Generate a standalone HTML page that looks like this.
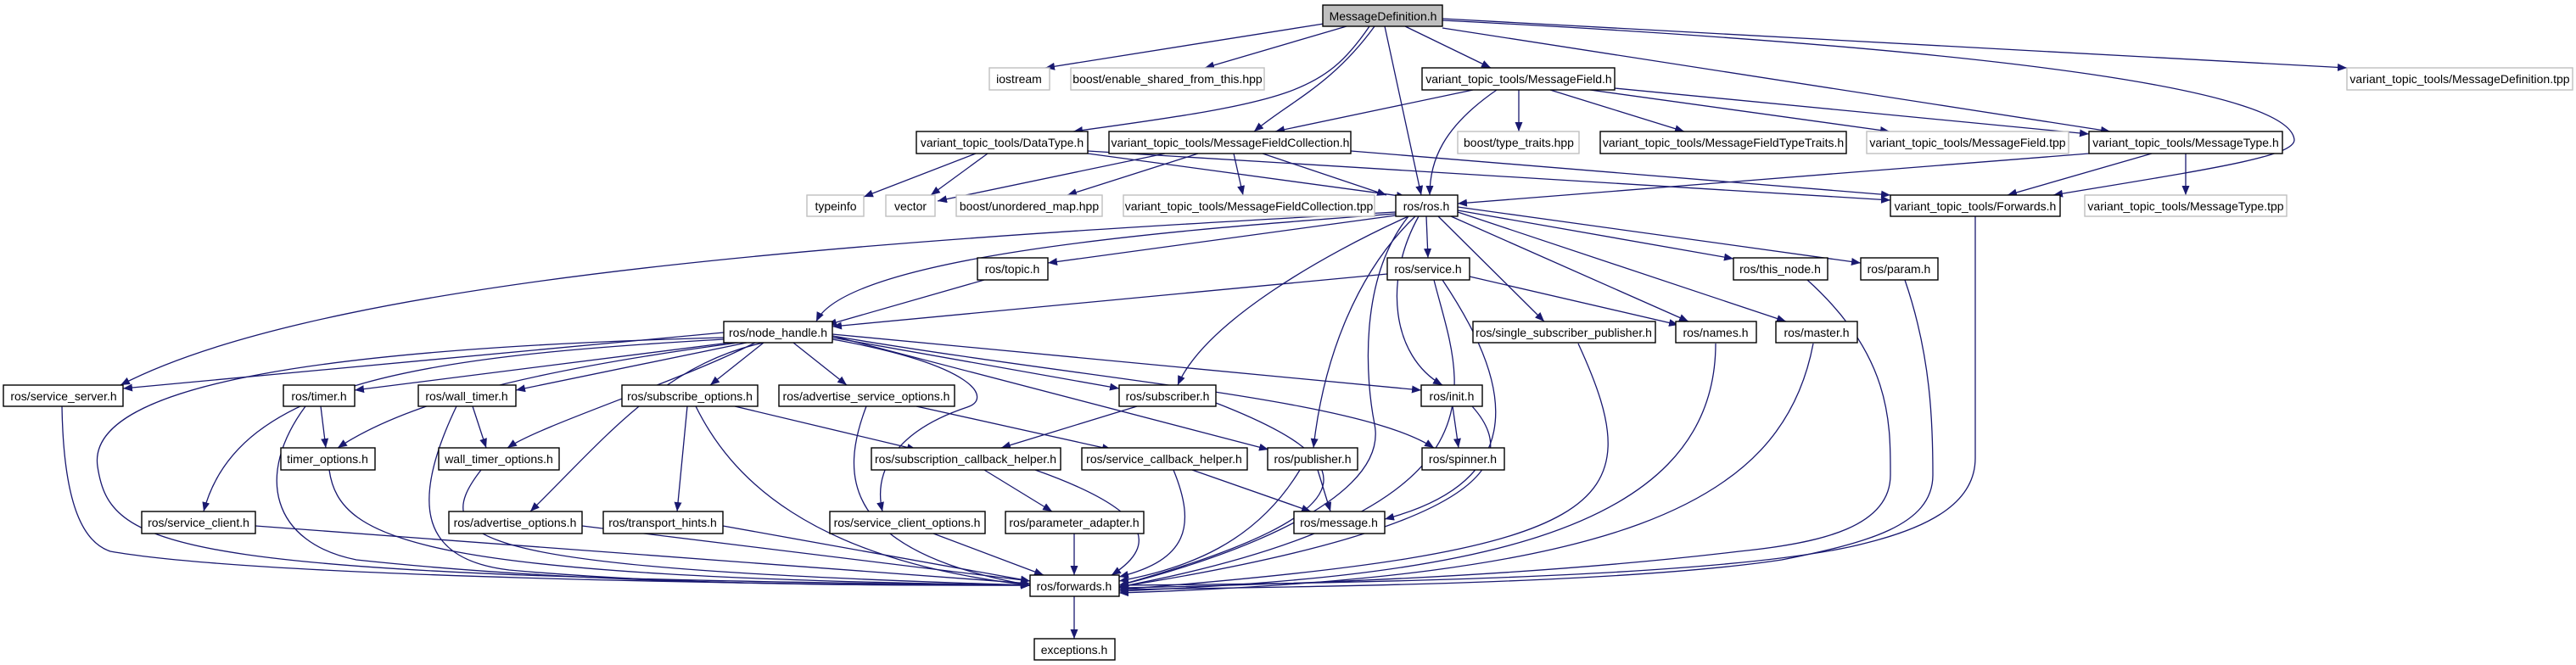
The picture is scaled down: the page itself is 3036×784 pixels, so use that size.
<!DOCTYPE html>
<html><head><meta charset="utf-8"><style>
html,body{margin:0;padding:0;background:#fff;}
svg{display:block;}
text{font-family:"Liberation Sans",Arial,sans-serif;font-size:14px;text-anchor:middle;fill:#000;}
.e{fill:none;stroke:#191970;stroke-width:1.3;marker-end:url(#a);}
.n{fill:#fff;stroke:#000;stroke-width:1.4;}
.g{fill:#fff;stroke:#bfbfbf;stroke-width:1.4;}
</style></head><body>
<svg width="3036" height="784" viewBox="0 0 3036 784" xmlns="http://www.w3.org/2000/svg">
<defs><marker id="a" markerUnits="userSpaceOnUse" markerWidth="12" markerHeight="9" refX="11" refY="4.5" orient="auto"><path d="M0,0 L11,4.5 L0,9 z" fill="#191970"/></marker></defs>
<g>
<!-- MessageDefinition -->
<path class="e" d="M1560,28 L1232,80"/>
<path class="e" d="M1587,31 L1420,80"/>
<path class="e" d="M1614,31 C1560,110 1520,120 1265,155"/>
<path class="e" d="M1620,31 C1570,100 1520,120 1478,155"/>
<path class="e" d="M1632,31 L1675,230"/>
<path class="e" d="M1656,31 L1757,80"/>
<path class="e" d="M1700,33 L2487,155"/>
<path class="e" d="M1700,24 C2400,60 2700,110 2704,165 C2704,185 2600,200 2420,230"/>
<path class="e" d="M1700,22 L2766,80"/>
<!-- MessageField -->
<path class="e" d="M1736,106 L1503,155"/>
<path class="e" d="M1764,106 C1700,150 1685,190 1685,230"/>
<path class="e" d="M1790,106 L1790,155"/>
<path class="e" d="M1827,106 L1985,155"/>
<path class="e" d="M1874,106 L2227,155"/>
<path class="e" d="M1903,104 L2462,158"/>
<!-- DataType -->
<path class="e" d="M1150,181 L1018,232"/>
<path class="e" d="M1164,181 L1097,230"/>
<path class="e" d="M1282,181 L1657,232"/>
<path class="e" d="M1282,178 L2228,236"/>
<!-- MFC -->
<path class="e" d="M1373,181 L1105,237"/>
<path class="e" d="M1412,181 L1258,230"/>
<path class="e" d="M1454,181 L1465,230"/>
<path class="e" d="M1488,181 L1634,230"/>
<path class="e" d="M1592,178 L2228,230"/>
<!-- MessageType -->
<path class="e" d="M2462,181 L1718,240"/>
<path class="e" d="M2536,181 L2366,230"/>
<path class="e" d="M2576,181 L2576,230"/>
<!-- Forwards variant -->
<path class="e" d="M2328,255 L2328,540 C2328,590 2280,620 2200,640 C2050,680 1600,688 1319,690"/>
<!-- ros.h -->
<path class="e" d="M1645,252 C1400,270 1000,300 962,379"/>
<path class="e" d="M1645,250 C1100,280 400,320 142,454"/>
<path class="e" d="M1645,254 L1235,310"/>
<path class="e" d="M1681,255 L1683,304"/>
<path class="e" d="M1660,255 C1560,300 1420,380 1388,454"/>
<path class="e" d="M1668,255 C1600,320 1560,420 1548,528"/>
<path class="e" d="M1672,255 C1630,330 1640,420 1700,454"/>
<path class="e" d="M1695,255 L1820,379"/>
<path class="e" d="M1710,255 L1990,379"/>
<path class="e" d="M1718,250 L2105,379"/>
<path class="e" d="M1718,248 L2043,305"/>
<path class="e" d="M1718,244 L2193,310"/>
<path class="e" d="M1660,255 C1600,330 1610,450 1620,500 C1640,600 1400,670 1319,690"/>
<!-- service -->
<path class="e" d="M1700,330 C1760,420 1830,560 1632,612"/>
<path class="e" d="M1635,323 L981,385"/>
<path class="e" d="M1732,326 L1978,383"/>
<path class="e" d="M1690,330 C1720,450 1800,600 1319,692"/>
<!-- row 5 to fwd -->
<path class="e" d="M1860,405 C1950,600 1900,650 1319,695"/>
<path class="e" d="M2022,405 C2022,640 1700,680 1319,697"/>
<path class="e" d="M2137,405 C2100,600 1900,680 1319,699"/>
<path class="e" d="M2130,330 C2230,420 2228,500 2228,560 C2228,620 2150,640 2050,650 C1800,680 1500,690 1319,693"/>
<path class="e" d="M2245,330 C2276,420 2278,500 2278,560 C2278,620 2200,640 2100,660 C1900,690 1500,692 1319,695"/>
<path class="e" d="M1160,330 L975,383"/>
<!-- node_handle -->
<path class="e" d="M853,392 L145,458"/>
<path class="e" d="M853,400 C500,420 280,450 240,603"/>
<path class="e" d="M860,404 L418,460"/>
<path class="e" d="M870,404 C600,440 470,480 398,528"/>
<path class="e" d="M880,404 L608,460"/>
<path class="e" d="M890,404 C800,450 640,500 598,528"/>
<path class="e" d="M900,404 L837,454"/>
<path class="e" d="M935,404 L998,454"/>
<path class="e" d="M900,404 C780,430 710,520 625,603"/>
<path class="e" d="M981,400 C1150,430 1170,470 1140,480 C1050,510 1030,560 1040,603"/>
<path class="e" d="M981,398 L1319,458"/>
<path class="e" d="M981,396 L1495,530"/>
<path class="e" d="M981,394 L1675,460"/>
<path class="e" d="M981,396 C1300,450 1600,470 1690,528"/>
<path class="e" d="M853,398 C400,410 100,450 115,550 C130,650 200,680 1214,690"/>
<!-- lower -->
<path class="e" d="M73,479 C75,600 100,640 130,650 C300,680 900,690 1214,690"/>
<path class="e" d="M301,620 L1214,688"/>
<path class="e" d="M378,479 L384,528"/>
<path class="e" d="M360,479 C300,560 320,640 420,660 C700,690 1000,690 1214,690"/>
<path class="e" d="M388,554 C400,640 500,680 1214,690"/>
<path class="e" d="M557,479 L573,528"/>
<path class="e" d="M538,479 C480,600 500,660 600,672 C800,690 1000,690 1214,690"/>
<path class="e" d="M567,554 C500,640 560,670 1214,690"/>
<path class="e" d="M686,620 L1214,685"/>
<path class="e" d="M852,620 L1214,685"/>
<path class="e" d="M810,479 L798,603"/>
<path class="e" d="M866,479 L1080,530"/>
<path class="e" d="M820,479 C860,560 950,660 1214,690"/>
<path class="e" d="M1080,479 L1310,530"/>
<path class="e" d="M1021,479 C990,560 990,650 1214,690"/>
<path class="e" d="M1100,629 L1230,678"/>
<path class="e" d="M1160,554 L1240,603"/>
<path class="e" d="M1220,554 C1350,600 1370,640 1310,678"/>
<path class="e" d="M1340,479 L1180,528"/>
<path class="e" d="M1433,475 C1600,540 1640,600 1319,690"/>
<path class="e" d="M1405,554 L1545,603"/>
<path class="e" d="M1383,554 C1410,620 1400,660 1319,680"/>
<path class="e" d="M1553,554 L1568,603"/>
<path class="e" d="M1532,554 C1480,640 1400,670 1319,685"/>
<path class="e" d="M1266,629 L1266,678"/>
<path class="e" d="M1712,479 L1719,528"/>
<path class="e" d="M1735,479 C1790,540 1770,620 1319,692"/>
<path class="e" d="M1266,703 L1266,753"/>
</g>
<g>
<rect x="1559" y="6" width="141" height="25" fill="#bfbfbf" stroke="#000" stroke-width="1.4"/><text x="1630" y="24">MessageDefinition.h</text>
<rect class="g" x="1166" y="80" width="71" height="26"/><text x="1201" y="98">iostream</text>
<rect class="g" x="1262" y="80" width="228" height="26"/><text x="1376" y="98">boost/enable_shared_from_this.hpp</text>
<rect class="n" x="1676" y="80" width="227" height="26"/><text x="1790" y="98">variant_topic_tools/MessageField.h</text>
<rect class="g" x="2766" y="80" width="266" height="26"/><text x="2899" y="98">variant_topic_tools/MessageDefinition.tpp</text>
<rect class="n" x="1080" y="155" width="202" height="26"/><text x="1181" y="173">variant_topic_tools/DataType.h</text>
<rect class="n" x="1307" y="155" width="285" height="26"/><text x="1450" y="173">variant_topic_tools/MessageFieldCollection.h</text>
<rect class="g" x="1718" y="155" width="143" height="26"/><text x="1790" y="173">boost/type_traits.hpp</text>
<rect class="n" x="1886" y="155" width="290" height="26"/><text x="2031" y="173">variant_topic_tools/MessageFieldTypeTraits.h</text>
<rect class="g" x="2200" y="155" width="238" height="26"/><text x="2319" y="173">variant_topic_tools/MessageField.tpp</text>
<rect class="n" x="2462" y="155" width="228" height="26"/><text x="2576" y="173">variant_topic_tools/MessageType.h</text>
<rect class="g" x="951" y="230" width="67" height="25"/><text x="985" y="248">typeinfo</text>
<rect class="g" x="1044" y="230" width="58" height="25"/><text x="1073" y="248">vector</text>
<rect class="g" x="1127" y="230" width="172" height="25"/><text x="1213" y="248">boost/unordered_map.hpp</text>
<rect class="g" x="1324" y="230" width="296" height="25"/><text x="1472" y="248">variant_topic_tools/MessageFieldCollection.tpp</text>
<rect class="n" x="1645" y="230" width="73" height="25"/><text x="1681" y="248">ros/ros.h</text>
<rect class="n" x="2228" y="230" width="200" height="25"/><text x="2328" y="248">variant_topic_tools/Forwards.h</text>
<rect class="g" x="2457" y="230" width="238" height="25"/><text x="2576" y="248">variant_topic_tools/MessageType.tpp</text>
<rect class="n" x="1152" y="304" width="83" height="26"/><text x="1193" y="322">ros/topic.h</text>
<rect class="n" x="1635" y="304" width="97" height="26"/><text x="1683" y="322">ros/service.h</text>
<rect class="n" x="2043" y="304" width="111" height="26"/><text x="2098" y="322">ros/this_node.h</text>
<rect class="n" x="2193" y="304" width="91" height="26"/><text x="2238" y="322">ros/param.h</text>
<rect class="n" x="853" y="379" width="128" height="25"/><text x="917" y="397">ros/node_handle.h</text>
<rect class="n" x="1736" y="379" width="215" height="25"/><text x="1843" y="397">ros/single_subscriber_publisher.h</text>
<rect class="n" x="1975" y="379" width="95" height="25"/><text x="2022" y="397">ros/names.h</text>
<rect class="n" x="2093" y="379" width="96" height="25"/><text x="2141" y="397">ros/master.h</text>
<rect class="n" x="4" y="454" width="141" height="25"/><text x="75" y="472">ros/service_server.h</text>
<rect class="n" x="334" y="454" width="84" height="25"/><text x="376" y="472">ros/timer.h</text>
<rect class="n" x="493" y="454" width="115" height="25"/><text x="550" y="472">ros/wall_timer.h</text>
<rect class="n" x="733" y="454" width="160" height="25"/><text x="813" y="472">ros/subscribe_options.h</text>
<rect class="n" x="918" y="454" width="207" height="25"/><text x="1021" y="472">ros/advertise_service_options.h</text>
<rect class="n" x="1319" y="454" width="114" height="25"/><text x="1376" y="472">ros/subscriber.h</text>
<rect class="n" x="1675" y="454" width="72" height="25"/><text x="1711" y="472">ros/init.h</text>
<rect class="n" x="331" y="528" width="111" height="26"/><text x="386" y="546">timer_options.h</text>
<rect class="n" x="517" y="528" width="142" height="26"/><text x="588" y="546">wall_timer_options.h</text>
<rect class="n" x="1027" y="528" width="223" height="26"/><text x="1138" y="546">ros/subscription_callback_helper.h</text>
<rect class="n" x="1275" y="528" width="195" height="26"/><text x="1372" y="546">ros/service_callback_helper.h</text>
<rect class="n" x="1494" y="528" width="106" height="26"/><text x="1547" y="546">ros/publisher.h</text>
<rect class="n" x="1676" y="528" width="97" height="26"/><text x="1724" y="546">ros/spinner.h</text>
<rect class="n" x="167" y="603" width="134" height="26"/><text x="234" y="621">ros/service_client.h</text>
<rect class="n" x="529" y="603" width="157" height="26"/><text x="607" y="621">ros/advertise_options.h</text>
<rect class="n" x="711" y="603" width="141" height="26"/><text x="781" y="621">ros/transport_hints.h</text>
<rect class="n" x="978" y="603" width="183" height="26"/><text x="1069" y="621">ros/service_client_options.h</text>
<rect class="n" x="1185" y="603" width="163" height="26"/><text x="1266" y="621">ros/parameter_adapter.h</text>
<rect class="n" x="1525" y="603" width="107" height="26"/><text x="1578" y="621">ros/message.h</text>
<rect class="n" x="1214" y="678" width="105" height="25"/><text x="1266" y="696">ros/forwards.h</text>
<rect class="n" x="1219" y="753" width="95" height="25"/><text x="1266" y="771">exceptions.h</text>
</g>
</svg>
</body></html>
